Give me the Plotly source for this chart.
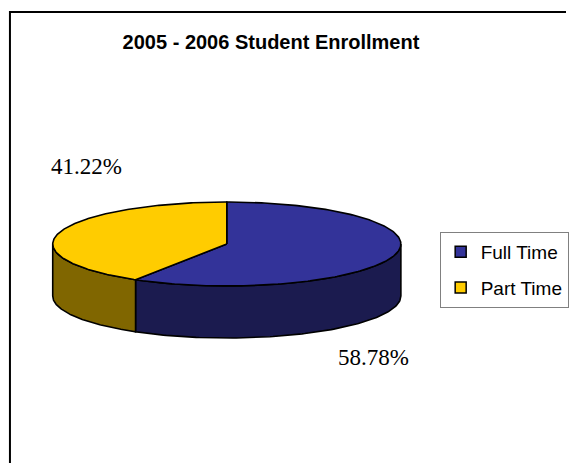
import numpy as np
import plotly.graph_objects as go

# ---- data ----
categories = ["Full Time", "Part Time"]
percentages = [58.78, 41.22]
title_text = "2005 - 2006 Student Enrollment"

# ---- styles ----
top_colors = ["#333399", "#FFCC00"]
side_colors = ["#1B1B4F", "#806600"]
label_pos = {"Full Time": (375, 357), "Part Time": (87, 166)}
CX, CY, RX, RY, DEPTH = 228, 244, 175, 42, 52
W, H = 569, 463


def ell(t_deg):
    r = np.radians(t_deg)
    return CX + RX * np.sin(r), CY - RY * np.cos(r)


fig = go.Figure()
vals = np.array(percentages, dtype=float)
fracs = vals / vals.sum()
ends = np.cumsum(fracs) * 360
starts = np.concatenate([[0.0], ends[:-1]])

# side walls (front half of the rim only)
for i, cat in enumerate(categories):
    lo, hi = max(starts[i], 90.0), min(ends[i], 270.0)
    if lo < hi:
        t = np.linspace(lo, hi, 120)
        x, y = ell(t)
        xs = np.concatenate([x, x[::-1], x[:1]])
        ys = np.concatenate([y, (y + DEPTH)[::-1], y[:1]])
        fig.add_trace(go.Scatter(
            x=xs, y=ys, mode="lines", fill="toself",
            fillcolor=side_colors[i],
            line=dict(color="black", width=1.6),
            showlegend=False, hoverinfo="skip"))

# top faces
for i, cat in enumerate(categories):
    t = np.linspace(starts[i], ends[i], 240)
    x, y = ell(t)
    xs = np.concatenate([[CX], x, [CX]])
    ys = np.concatenate([[CY], y, [CY]])
    fig.add_trace(go.Scatter(
        x=xs, y=ys, mode="lines", fill="toself",
        fillcolor=top_colors[i],
        line=dict(color="black", width=1.6),
        showlegend=False, hoverinfo="text", text=f"{cat}: {percentages[i]:.2f}%"))

# legend entries
for i, cat in enumerate(categories):
    fig.add_trace(go.Scatter(
        x=[None], y=[None], mode="markers", name=cat, legendgroup=cat,
        marker=dict(symbol="square", size=11, color=top_colors[i],
                    line=dict(color="black", width=1.5))))

# percentage labels
for i, cat in enumerate(categories):
    lx, ly = label_pos[cat]
    fig.add_annotation(x=lx, y=ly, xref="x", yref="y", text=f"{percentages[i]:.2f}%",
                       showarrow=False,
                       font=dict(family="Liberation Serif", size=23, color="black"))

# chart frame
fig.add_shape(type="rect", xref="x", yref="y", x0=10, y0=12, x1=W + 40, y1=H + 40,
              line=dict(color="black", width=2), fillcolor="rgba(0,0,0,0)")

fig.update_layout(
    width=W, height=H,
    margin=dict(l=0, r=0, t=0, b=0),
    paper_bgcolor="white", plot_bgcolor="white",
    title=dict(text=f"<b>{title_text}</b>", x=271 / W, y=1 - 42 / H,
               xanchor="center", yanchor="middle",
               font=dict(family="Liberation Sans", size=20, color="black")),
    xaxis=dict(range=[0, W], visible=False, fixedrange=True),
    yaxis=dict(range=[H, 0], visible=False, fixedrange=True),
    legend=dict(x=442 / W, y=1 - 232 / H, xanchor="left", yanchor="top",
                bordercolor="#808080", borderwidth=1, bgcolor="white",
                font=dict(family="Liberation Sans", size=19, color="black"),
                traceorder="grouped", tracegroupgap=8, itemwidth=30),
    showlegend=True,
)

fig.write_html("out.html")
